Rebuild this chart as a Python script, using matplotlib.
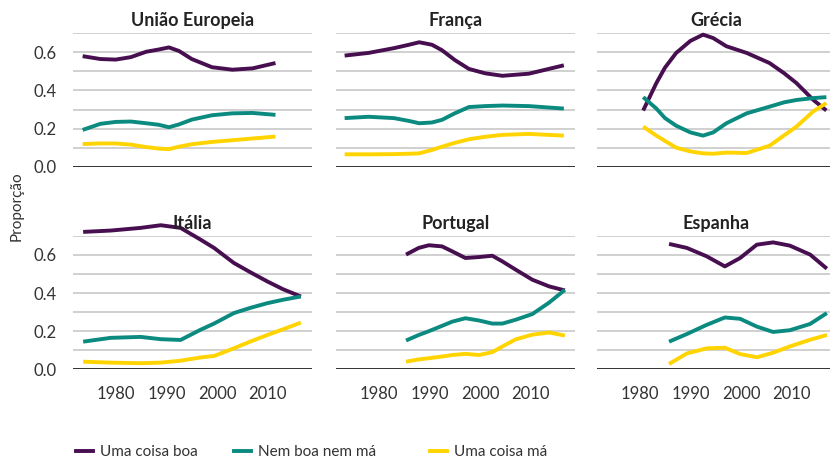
import matplotlib
matplotlib.use('Agg')
import matplotlib.pyplot as plt
from matplotlib.lines import Line2D

plt.rcParams['font.family'] = ['Lato', 'DejaVu Sans']

series_names = ['Uma coisa boa', 'Nem boa nem má', 'Uma coisa má']
series_colors = ['#470f50', '#0b8a80', '#ffd400']
countries = ['União Europeia', 'França', 'Grécia', 'Itália', 'Portugal', 'Espanha']

eu_years = [1973.5, 1977, 1980, 1983, 1986, 1988.5, 1990.5, 1992.5, 1995, 1999, 2003, 2007, 2011.5]
eu_boa = [0.58, 0.565, 0.562, 0.575, 0.603, 0.615, 0.626, 0.607, 0.565, 0.522, 0.509, 0.516, 0.544]
eu_nem = [0.193, 0.225, 0.235, 0.237, 0.228, 0.22, 0.207, 0.222, 0.247, 0.27, 0.28, 0.282, 0.272]
eu_ma = [0.119, 0.122, 0.122, 0.116, 0.103, 0.095, 0.092, 0.105, 0.118, 0.13, 0.139, 0.148, 0.158]

fr_years = [1973.3, 1978, 1983, 1986, 1988, 1990.5, 1992.5, 1995, 1997.8, 2001, 2004.4, 2009.6, 2016.5]
fr_boa = [0.583, 0.597, 0.622, 0.64, 0.653, 0.64, 0.611, 0.56, 0.513, 0.49, 0.477, 0.488, 0.532]
fr_nem = [0.255, 0.262, 0.255, 0.24, 0.228, 0.232, 0.246, 0.28, 0.313, 0.318, 0.321, 0.318, 0.305]
fr_ma = [0.065, 0.065, 0.066, 0.068, 0.07, 0.088, 0.105, 0.125, 0.144, 0.157, 0.167, 0.172, 0.163]

gr_years = [1980.7, 1983.3, 1985, 1987.2, 1990, 1992.5, 1994.5, 1997.1, 2001.1, 2005.6, 2008.5, 2010.9, 2014.2, 2016.8]
gr_boa = [0.295, 0.439, 0.52, 0.597, 0.66, 0.693, 0.675, 0.632, 0.597, 0.544, 0.49, 0.439, 0.351, 0.295]
gr_nem = [0.365, 0.305, 0.255, 0.215, 0.18, 0.163, 0.18, 0.228, 0.28, 0.315, 0.338, 0.35, 0.36, 0.365]
gr_ma = [0.21, 0.163, 0.135, 0.1, 0.08, 0.07, 0.068, 0.074, 0.072, 0.11, 0.165, 0.21, 0.29, 0.334]

it_years = [1973.6, 1979, 1984.9, 1988.9, 1992.8, 1996.7, 1999.4, 2003.3, 2006.5, 2009.9, 2013, 2016.5]
it_boa = [0.721, 0.728, 0.742, 0.756, 0.742, 0.681, 0.637, 0.558, 0.51, 0.461, 0.42, 0.382]
it_nem = [0.145, 0.165, 0.17, 0.158, 0.154, 0.207, 0.24, 0.295, 0.322, 0.347, 0.365, 0.382]
it_ma = [0.04, 0.035, 0.032, 0.035, 0.045, 0.062, 0.07, 0.11, 0.145, 0.18, 0.21, 0.245]

pt_years = [1985.4, 1987.9, 1989.9, 1992.5, 1994.5, 1997.1, 1999.8, 2002.4, 2004.4, 2007, 2010.3, 2013.6, 2016.7]
pt_boa = [0.602, 0.637, 0.651, 0.645, 0.619, 0.584, 0.589, 0.596, 0.566, 0.523, 0.47, 0.435, 0.414]
pt_nem = [0.151, 0.18, 0.2, 0.228, 0.25, 0.268, 0.256, 0.24, 0.24, 0.26, 0.29, 0.35, 0.417]
pt_ma = [0.04, 0.052, 0.058, 0.067, 0.075, 0.081, 0.075, 0.09, 0.12, 0.157, 0.182, 0.193, 0.177]

es_years = [1985.8, 1989.3, 1993.2, 1996.8, 1999.8, 2003.1, 2006.3, 2009.6, 2013.6, 2016.9]
es_boa = [0.658, 0.637, 0.593, 0.54, 0.584, 0.654, 0.666, 0.649, 0.602, 0.528]
es_nem = [0.145, 0.185, 0.233, 0.272, 0.265, 0.224, 0.196, 0.205, 0.238, 0.295]
es_ma = [0.028, 0.083, 0.11, 0.113, 0.08, 0.063, 0.087, 0.12, 0.155, 0.18]

panels = [
    (eu_years, [eu_boa, eu_nem, eu_ma]),
    (fr_years, [fr_boa, fr_nem, fr_ma]),
    (gr_years, [gr_boa, gr_nem, gr_ma]),
    (it_years, [it_boa, it_nem, it_ma]),
    (pt_years, [pt_boa, pt_nem, pt_ma]),
    (es_years, [es_boa, es_nem, es_ma]),
]

x_ticks = [1980, 1990, 2000, 2010]
y_ticks = [0.0, 0.2, 0.4, 0.6]

fig = plt.figure(figsize=(8.3, 4.61), dpi=100)
W, H = 830, 461
lefts = [73, 336, 597]
bottoms = [166.7, 369.3]  # pixel y of zero line
aw, ah = 239, 133.4

for i, (country, (years, vals)) in enumerate(zip(countries, panels)):
    r, c = divmod(i, 3)
    ax = fig.add_axes([lefts[c] / W, 1 - bottoms[r] / H, aw / W, ah / H])
    for v, col in zip(vals, series_colors):
        ax.plot(years, v, color=col, lw=2.8, solid_capstyle='butt',
                solid_joinstyle='round', clip_on=False, zorder=3)
    ax.set_xlim(1971.6, 2018.7)
    ax.set_ylim(0, 0.7)
    for g in [0.1, 0.2, 0.3, 0.4, 0.5, 0.6, 0.7]:
        ax.axhline(g, color='#c4c4c4', lw=1.1, zorder=1)
    ax.axhline(0, color='#222222', lw=1.3, zorder=2)
    for s in ax.spines.values():
        s.set_visible(False)
    ax.set_title(country, fontsize=13, fontweight='bold', color='#222222', pad=5)
    ax.tick_params(length=0, labelsize=12, colors='#333333')
    ax.tick_params(axis='y', pad=12)
    ax.tick_params(axis='x', pad=12)
    if c == 0:
        ax.set_yticks(y_ticks)
        ax.set_yticklabels(['0.0', '0.2', '0.4', '0.6'])
    else:
        ax.set_yticks([])
    if r == 1:
        ax.set_xticks(x_ticks)
    else:
        ax.set_xticks([])

fig.text(17 / W, 1 - 206 / H, 'Proporção', rotation=90, ha='center', va='center',
         fontsize=11, color='#333333')

leg_x = [70, 228, 424]
for name, col, lx in zip(series_names, series_colors, leg_x):
    h = Line2D([], [], color=col, lw=2.8)
    fig.legend([h], [name], loc='center left', bbox_to_anchor=(lx / W, 1 - 452 / H),
               frameon=False, fontsize=11, handlelength=1.1, handletextpad=0.45,
               borderaxespad=0, labelcolor='#333333')

fig.savefig('out.png', dpi=100)
